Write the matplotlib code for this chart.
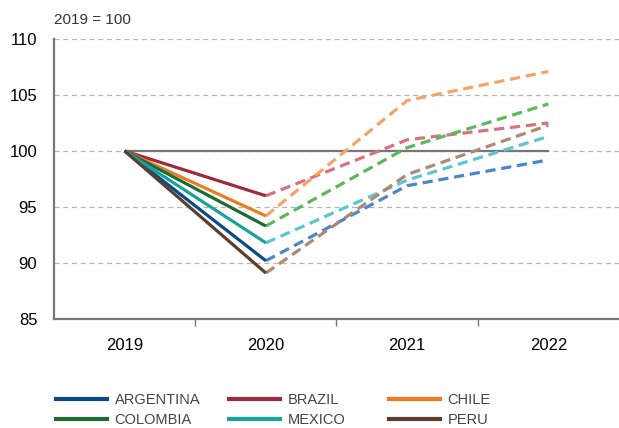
"""
Real GDP index for six Latin American economies, 2019 = 100
"""
import numpy as np
import matplotlib
matplotlib.use('Agg')
import matplotlib.pyplot as plt
from matplotlib.lines import Line2D

plt.rcParams['font.family'] = ['Liberation Sans', 'DejaVu Sans']

years = ['2019', '2020', '2021', '2022']
countries = ['ARGENTINA', 'BRAZIL', 'CHILE', 'COLOMBIA', 'MEXICO', 'PERU']

argentina = [100, 90.2, 96.9, 99.2]
brazil = [100, 96.0, 101.0, 102.5]
chile = [100, 94.2, 104.5, 107.1]
colombia = [100, 93.3, 100.3, 104.2]
mexico = [100, 91.8, 97.4, 101.3]
peru = [100, 89.1, 97.9, 102.3]

series = [argentina, brazil, chile, colombia, mexico, peru]

# dark = actual (solid), light = forecast (dashed)
dark_colors = ['#0b4a85', '#9e2a3e', '#f07a22', '#1d6b35', '#17a39a', '#5a3f30']
light_colors = ['#4a86c8', '#d9727e', '#f6a466', '#5cb85c', '#5cc6d2', '#ad8a74']

fig = plt.figure(figsize=(6.19, 4.28), dpi=100)
ax = fig.add_axes([0.0872, 0.2547, 0.9128, 0.6542])

x = np.arange(len(years))

# base line at 100
ax.plot([x[0], x[-1]], [100, 100], color='#777777', linewidth=1.6, zorder=2)

for vals, dc, lc in zip(series, dark_colors, light_colors):
    ax.plot(x[1:], vals[1:], color=lc, linewidth=2.3, linestyle=(0, (3.2, 1.8)),
            zorder=3)
    ax.plot(x[:2], vals[:2], color=dc, linewidth=2.3, solid_capstyle='butt',
            zorder=4)

ax.set_xlim(-0.5, 3.5)
ax.set_ylim(85, 110)
ax.set_yticks(np.arange(85, 111, 5))
ax.yaxis.grid(True, color='#b5b5b5', linestyle=(0, (4, 3)), linewidth=0.9)
ax.set_axisbelow(True)

ax.set_xticks(x)
ax.set_xticklabels(years)
ax.set_xticks(np.arange(0.5, 3.0, 1), minor=True)
ax.tick_params(axis='x', which='major', length=0, pad=14, labelsize=12)
ax.tick_params(axis='x', which='minor', length=5, color='#777777', width=1)
ax.tick_params(axis='y', length=0, pad=12, labelsize=12)

for side in ['top', 'right']:
    ax.spines[side].set_visible(False)
for side in ['left', 'bottom']:
    ax.spines[side].set_color('#777777')
    ax.spines[side].set_linewidth(1.6)

fig.text(0.087, 0.953, '2019 = 100', fontsize=11, color='#333333', va='center')

# legend, one column at a time
col_x = [(56 - 5.6) / 619, (229 - 5.6) / 619, (389 - 5.6) / 619]
for c in range(3):
    idx = [c, c + 3]
    handles = [Line2D([], [], color=dark_colors[i], linewidth=3) for i in idx]
    labels = [countries[i] for i in idx]
    leg = fig.legend(handles, labels, loc='upper left',
                     bbox_to_anchor=(col_x[c], 0.096), frameon=False,
                     fontsize=10.5, handlelength=3.5, handletextpad=0.5,
                     labelspacing=0.45, borderaxespad=0)
    for t in leg.get_texts():
        t.set_color('#444444')

plt.savefig('out.png', dpi=100)
plt.close()
